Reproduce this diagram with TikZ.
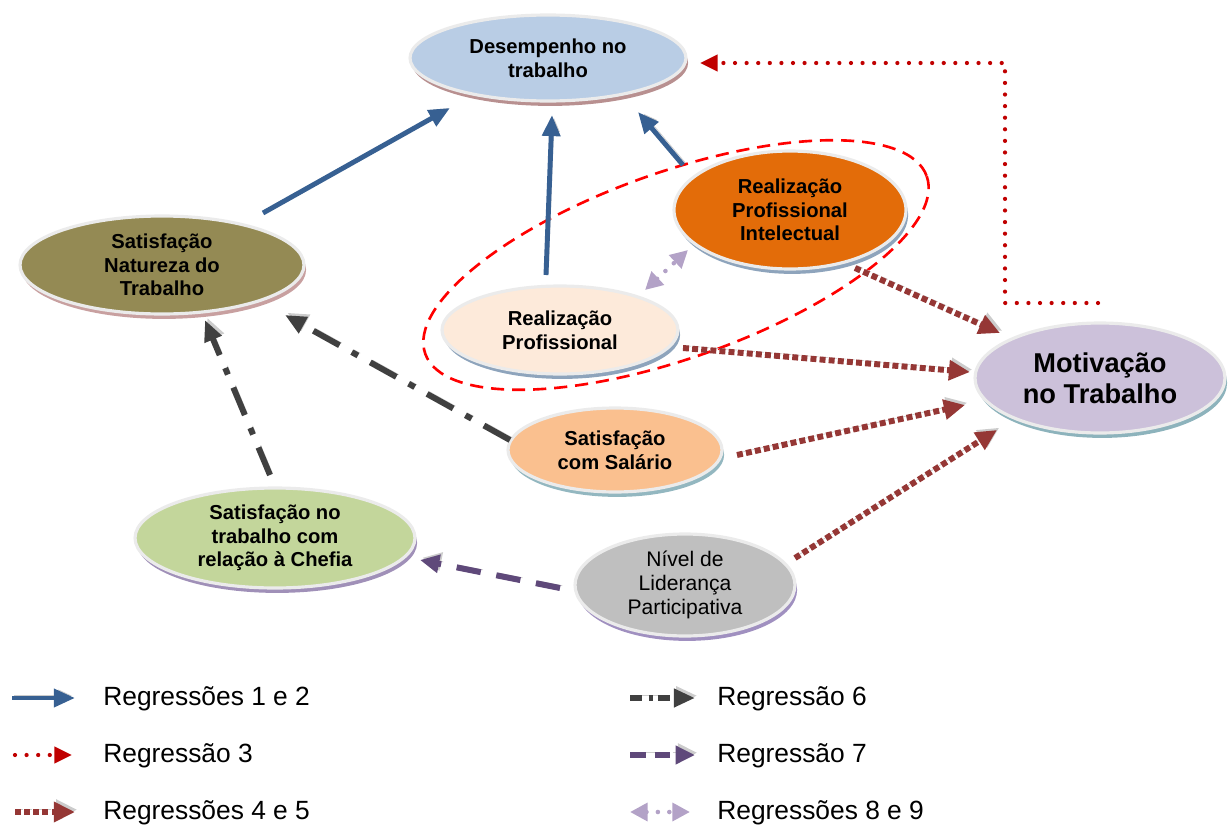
\documentclass[tikz,border=0pt]{standalone}
\usepackage{fontspec}
\setmainfont{Liberation Sans}
\usetikzlibrary{shapes.geometric,arrows.meta,calc}
\definecolor{desF}{HTML}{B9CDE5}\definecolor{desS}{HTML}{B89090}
\definecolor{natF}{HTML}{948A54}\definecolor{natS}{HTML}{C8A0A0}
\definecolor{rpiF}{HTML}{E36C09}\definecolor{rpiS}{HTML}{8EA4BC}
\definecolor{rpF}{HTML}{FDEADA}\definecolor{rpS}{HTML}{8EA4BC}
\definecolor{motF}{HTML}{CCC1DA}\definecolor{motS}{HTML}{8DB3BC}
\definecolor{salF}{HTML}{FAC08F}\definecolor{salS}{HTML}{93B7C0}
\definecolor{chfF}{HTML}{C3D69B}\definecolor{chfS}{HTML}{A090B8}
\definecolor{nivF}{HTML}{BFBFBF}\definecolor{nivS}{HTML}{A090C0}
\definecolor{cBlue}{HTML}{376092}
\definecolor{cRed}{HTML}{C00000}
\definecolor{cBrown}{HTML}{953735}
\definecolor{cGray}{HTML}{404040}
\definecolor{cPurple}{HTML}{5F497A}
\definecolor{cLav}{HTML}{B3A2C7}
\begin{document}
\begin{tikzpicture}[x=0.02cm,y=-0.02cm,
  ell/.style={ellipse, draw=black!8, line width=1.8pt, inner sep=0pt, align=center,
    font=\fontsize{11.5}{13.5}\selectfont\bfseries,
    preaction={fill=#1, transform canvas={shift={(1.2pt,-2.8pt)}}}},
  ashadow/.style={preaction={draw=black!20, #1, transform canvas={shift={(1.3pt,1.3pt)}}}},
  reg12/.style={draw=cBlue, line width=2.8pt, -{Triangle[length=12pt,width=10pt]},
    ashadow={solid}},
  reg3/.style={draw=cRed, line width=2.4pt, line cap=round, dash pattern=on 0pt off 6.6pt,
    -{Triangle[length=10pt,width=9pt,fill=cRed]}},
  reg45/.style={draw=cBrown, line width=3.4pt, dash pattern=on 3.4pt off 1.8pt,
    -{Triangle[length=12pt,width=11pt]}, ashadow={dash pattern=on 3.4pt off 1.8pt}},
  reg6/.style={draw=cGray, line width=3.4pt, dash pattern=on 17pt off 8pt on 4pt off 8pt,
    -{Triangle[length=12pt,width=10pt]}, ashadow={dash pattern=on 17pt off 8pt on 4pt off 8pt}},
  reg7/.style={draw=cPurple, line width=3.4pt, dash pattern=on 14pt off 9pt,
    -{Triangle[length=11pt,width=10pt]}, ashadow={dash pattern=on 14pt off 9pt}},
  reg89/.style={draw=cLav, line width=2.6pt, line cap=round, dash pattern=on 0pt off 6.5pt,
    {Triangle[length=10pt,width=10pt]}-{Triangle[length=10pt,width=10pt]}},
  leg/.style={anchor=west, font=\fontsize{15}{18}\selectfont, inner sep=0pt}]
\useasboundingbox (0,0) rectangle (1228,825);

% dashed grouping loop
\draw[red, line width=1.5pt, dash pattern=on 7.5pt off 4.5pt, rotate around={19.5:(676,265)}]
  (676,265) ellipse [x radius=266, y radius=93];

% nodes
\node[ell=desS, fill=desF, minimum width=5.52cm, minimum height=1.72cm] (des) at (548,58) {Desempenho no\\trabalho};
\node[ell=natS, fill=natF, minimum width=5.68cm, minimum height=1.96cm] (nat) at (162,265) {Satisfação\\Natureza do\\Trabalho};
\node[ell=rpiS, fill=rpiF, minimum width=4.64cm, minimum height=2.36cm] (rpi) at (790,210) {Realização\\Profissional\\Intelectual};
\node[ell=rpS, fill=rpF, minimum width=4.72cm, minimum height=1.76cm] (rp) at (560,330) {Realização\\Profissional};
\node[ell=motS, fill=motF, minimum width=5.0cm, minimum height=2.2cm,
  font=\fontsize{15.5}{17.5}\selectfont\bfseries] (mot) at (1100,378) {Motivação\\no Trabalho};
\node[ell=salS, fill=salF, minimum width=4.28cm, minimum height=1.68cm] (sal) at (615,450) {Satisfação\\com Salário};
\node[ell=chfS, fill=chfF, minimum width=5.6cm, minimum height=2.0cm] (chf) at (275,538) {Satisfação no\\trabalho com\\relação à Chefia};
\node[ell=nivS, fill=nivF, minimum width=4.4cm, minimum height=2.04cm,
  font=\fontsize{12}{13.5}\selectfont] (niv) at (685,585) {Nível de\\Liderança\\Participativa};

% connectors
\draw[reg12] ($(nat)+(101,-52)$) -- ($(des)+(-98,50)$);
\draw[reg12] ($(rp)+(-14,-55)$) -- ($(des)+(4,57)$);
\draw[reg12] ($(rpi)+(-107,-45)$) -- ($(des)+(90,54)$);
\draw[reg3] ($(mot)+(-2,-75)$) -- ($(mot)+(-95,-75)$) |- ($(des)+(152,5)$);
\draw[reg45] ($(rpi)+(65,58)$) -- ($(mot)+(-100,-45)$);
\draw[reg45] ($(rp)+(123,18)$) -- ($(mot)+(-130,-6)$);
\draw[reg45] ($(sal)+(122,5)$) -- ($(mot)+(-135,27)$);
\draw[reg45] ($(niv)+(110,-27)$) -- ($(mot)+(-103,52)$);
\draw[reg6] ($(sal)+(-105,-10)$) -- ($(nat)+(123,50)$);
\draw[reg6] ($(chf)+(-5,-63)$) -- ($(nat)+(43,55)$);
\draw[reg7] ($(niv)+(-125,3)$) -- ($(chf)+(145,22)$);
\draw[reg89] ($(rp)+(85,-40)$) -- ($(rpi)+(-102,40)$);

% legend
\coordinate (l1a) at (12,698); \coordinate (l1b) at (75,698);
\coordinate (l2a) at (15,755); \coordinate (l2b) at (72,755);
\coordinate (l3a) at (15,812); \coordinate (l3b) at (75,812);
\coordinate (r1a) at (630,698); \coordinate (r1b) at (695,698);
\coordinate (r2a) at (630,755); \coordinate (r2b) at (695,755);
\coordinate (r3a) at (630,812); \coordinate (r3b) at (690,812);
\draw[reg12] (l1a) -- (l1b);
\draw[reg3] (l2a) -- (l2b);
\draw[reg45] (l3a) -- (l3b);
\draw[reg6, dash pattern=on 7pt off 4pt on 2pt off 3pt] (r1a) -- (r1b);
\draw[reg7, dash pattern=on 9pt off 5pt] (r2a) -- (r2b);
\draw[reg89] (r3a) -- (r3b);
\node[leg] (t1) at (103,699) {Regressões 1 e 2};
\node[leg] (t2) at (103,756) {Regressão 3};
\node[leg] (t3) at (103,813) {Regressões 4 e 5};
\node[leg] (t4) at (717,699) {Regressão 6};
\node[leg] (t5) at (717,756) {Regressão 7};
\node[leg] (t6) at (717,813) {Regressões 8 e 9};
\end{tikzpicture}
\end{document}
